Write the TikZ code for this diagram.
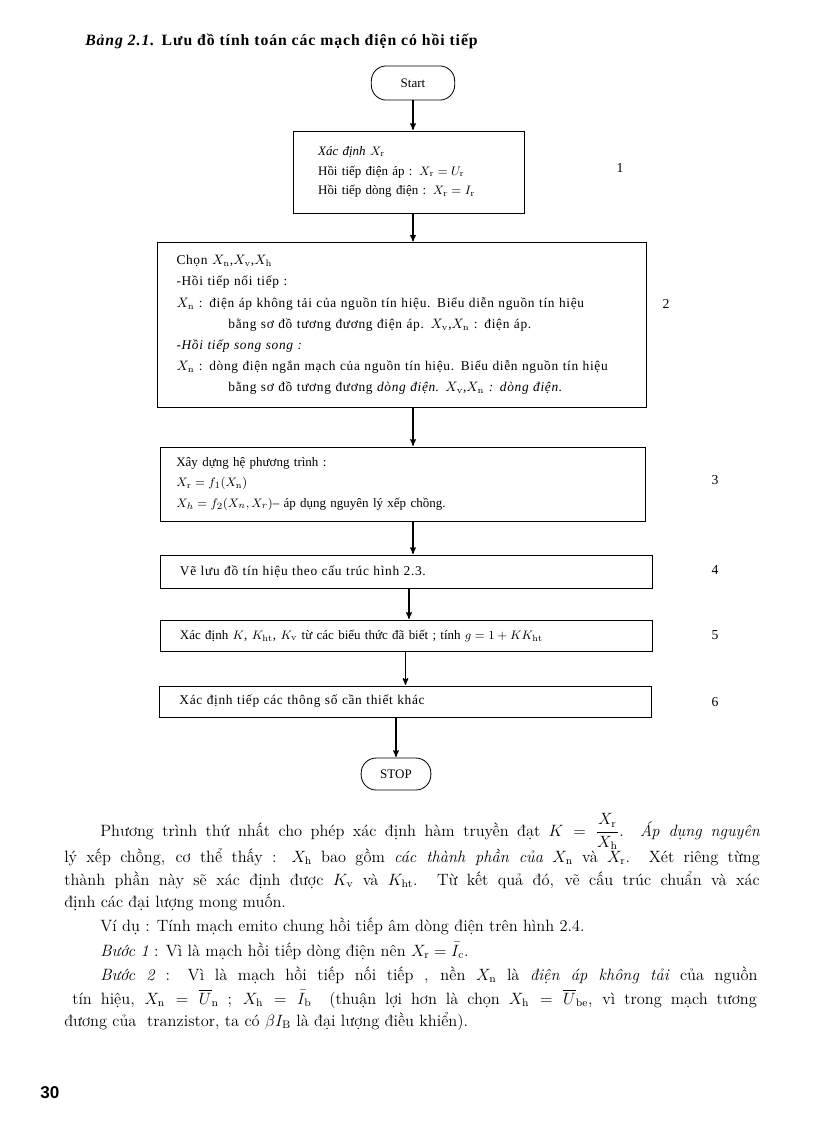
\documentclass[tikz,border=0pt]{standalone}
\usepackage{fontspec}
\usepackage{amsmath,amssymb}
\usetikzlibrary{arrows}
\newfontfamily\chartfont{Liberation Serif}
\newfontfamily\widechartfont{Liberation Serif}[LetterSpace=5]
\newfontfamily\titlefont{Liberation Serif}[LetterSpace=6]
\newfontfamily\pagenofont{Liberation Sans}

\begin{document}
\begin{tikzpicture}[x=0.7318pt,y=-0.7318pt,>=stealth',
    flow/.style={->,line width=0.8pt,shorten >=0.5pt},
    box/.style={draw,line width=0.6pt,inner ysep=0pt,align=left,
                font=\chartfont\fontsize{9.5}{15.5}\selectfont},
    widebox/.style={box,font=\widechartfont\fontsize{9.8}{15.5}\selectfont},
    term/.style={draw,line width=0.6pt,rounded corners=11pt,
                 font=\chartfont\fontsize{9.5}{12}\selectfont},
    stepno/.style={font=\chartfont\fontsize{10}{12}\selectfont},
    bodyline/.style={anchor=base west,inner sep=0pt,font=\fontsize{12}{14}\selectfont}]

  \useasboundingbox (0,0) rectangle (816,1123);

  \node[anchor=base west,inner sep=0pt,font=\titlefont\bfseries\fontsize{11.5}{13}\selectfont]
    (title) at (85,45) {\textit{Bảng 2.1.} Lưu đồ tính toán các mạch điện có hồi tiếp};

  % flowchart
  \node[term,minimum width=61pt,minimum height=25pt] (start) at (413,83) {Start};
  \node[box,minimum height=60pt,inner xsep=18pt,text width=133pt,
        font=\chartfont\fontsize{9.5}{14.3}\selectfont] (b1) at (409,172)
    {\textit{Xác định} $X_{\mathrm r}$\\
     Hồi tiếp điện áp : $X_{\mathrm r} = U_{\mathrm r}$\\
     Hồi tiếp dòng điện : $X_{\mathrm r} = I_{\mathrm r}$};
  \node[widebox,minimum height=120.7pt,inner xsep=14pt,text width=330pt] (b2) at (402,325)
    {Chọn $X_{\mathrm n}$,$X_{\mathrm v}$,$X_{\mathrm h}$\\
     -Hồi tiếp nối tiếp :\\
     $X_{\mathrm n}$ : điện áp không tải của nguồn tín hiệu. Biểu diễn nguồn tín hiệu\\
     \hspace*{38pt}bằng sơ đồ tương đương điện áp. $X_{\mathrm v}$,$X_{\mathrm n}$ : điện áp.\\
     \textit{-Hồi tiếp song song :}\\
     $X_{\mathrm n}$ : dòng điện ngắn mạch của nguồn tín hiệu. Biểu diễn nguồn tín hiệu\\
     \hspace*{38pt}bằng sơ đồ tương đương \textit{dòng điện}. $X_{\mathrm v}$,$X_{\mathrm n}$ \textit{: dòng điện.}};
  \node[box,minimum height=54.2pt,inner xsep=12pt,text width=331pt,
        font=\chartfont\fontsize{9.5}{15}\selectfont] (b3) at (402.5,484)
    {Xây dựng hệ phương trình :\\
     $X_{\mathrm r} = f_1(X_{\mathrm n})$\\
     $X_h = f_2(X_n,X_r)$– áp dụng nguyên lý xếp chồng.};
  \node[widebox,minimum height=24.1pt,inner xsep=14.6pt,text width=330.8pt] (b4) at (406,571.5)
    {Vẽ lưu đồ tín hiệu theo cấu trúc hình 2.3.};
  \node[box,minimum height=22.7pt,inner xsep=14.6pt,text width=330.8pt] (b5) at (406,635.5)
    {Xác định $K$, $K_{\mathrm{ht}}$, $K_{\mathrm v}$ từ các biểu thức đã biết ; tính $g = 1 + KK_{\mathrm{ht}}$};
  \node[widebox,minimum height=22.7pt,inner xsep=14.6pt,text width=330.8pt] (b6) at (405.5,701.5)
    {Xác định tiếp các thông số cần thiết khác};
  \node[term,minimum width=51pt,minimum height=23.4pt] (stop) at (396,774) {STOP};

  \draw[flow] (start) -- (start |- b1.north);
  \draw[flow] (b1.south -| start) -- (b2.north -| start);
  \draw[flow] (b2.south -| start) -- (b3.north -| start);
  \draw[flow] (b3.south -| start) -- (b4.north -| start);
  \draw[flow] (b4.south -| b1) -- (b5.north -| b1);
  \draw[flow] (b5.south -| b6) -- (b6.north -| b6);
  \draw[flow] (b6.south -| stop) -- (stop);

  \node[stepno] (n1) at (620,168) {1};
  \node[stepno] (n2) at (666,304) {2};
  \node[stepno] (n3) at (715,480) {3};
  \node[stepno] (n4) at (715,570) {4};
  \node[stepno] (n5) at (715,635) {5};
  \node[stepno] (n6) at (715,702) {6};

  % text below the chart
  \node[bodyline] (l1) at (100,836) {\makebox[483pt][s]{Phương trình thứ nhất cho phép xác định hàm truyền đạt $K = \dfrac{X_{\mathrm r}}{X_{\mathrm h}}$. \textit{Áp dụng nguyên}}};
  \node[bodyline] (l2) at (64,862) {\makebox[509pt][s]{lý xếp chồng, cơ thể thấy : $X_{\mathrm h}$ bao gồm \textit{các thành phần của} $X_{\mathrm n}$ và $X_{\mathrm r}$. Xét riêng từng}};
  \node[bodyline] (l3) at (64,885) {\makebox[509pt][s]{thành phần này sẽ xác định được $K_{\mathrm v}$ và $K_{\mathrm{ht}}$. Từ kết quả đó, vẽ cấu trúc chuẩn và xác}};
  \node[bodyline] (l4) at (64,907) {định các đại lượng mong muốn.};
  \node[bodyline] (l5) at (100,931) {Ví dụ : Tính mạch emito chung hồi tiếp âm dòng điện trên hình 2.4.};
  \node[bodyline] (l6) at (100,956) {\textit{Bước 1} : Vì là mạch hồi tiếp dòng điện nên $X_{\mathrm r} = \bar{I}_{\mathrm c}$.};
  \node[bodyline] (l7) at (100,980) {\makebox[481pt][s]{\textit{Bước 2} : Vì là mạch hồi tiếp nối tiếp , nền $X_{\mathrm n}$ là \textit{điện áp không tải} của nguồn}};
  \node[bodyline] (l8) at (72,1004) {\makebox[501pt][s]{tín hiệu, $X_{\mathrm n} = \overline{U}_{\mathrm n}$ ; $X_{\mathrm h} = \bar{I}_{\mathrm b}$ \ (thuận lợi hơn là chọn $X_{\mathrm h} = \overline{U}_{\mathrm{be}}$, vì trong mạch tương}};
  \node[bodyline] (l9) at (64,1026) {đương của \ tranzistor, ta có $\beta I_{\mathrm B}$ là đại lượng điều khiển).};

  \node[anchor=base west,inner sep=0pt,font=\pagenofont\bfseries\fontsize{12.5}{14}\selectfont]
    (pageno) at (40,1098) {30};
\end{tikzpicture}
\end{document}
